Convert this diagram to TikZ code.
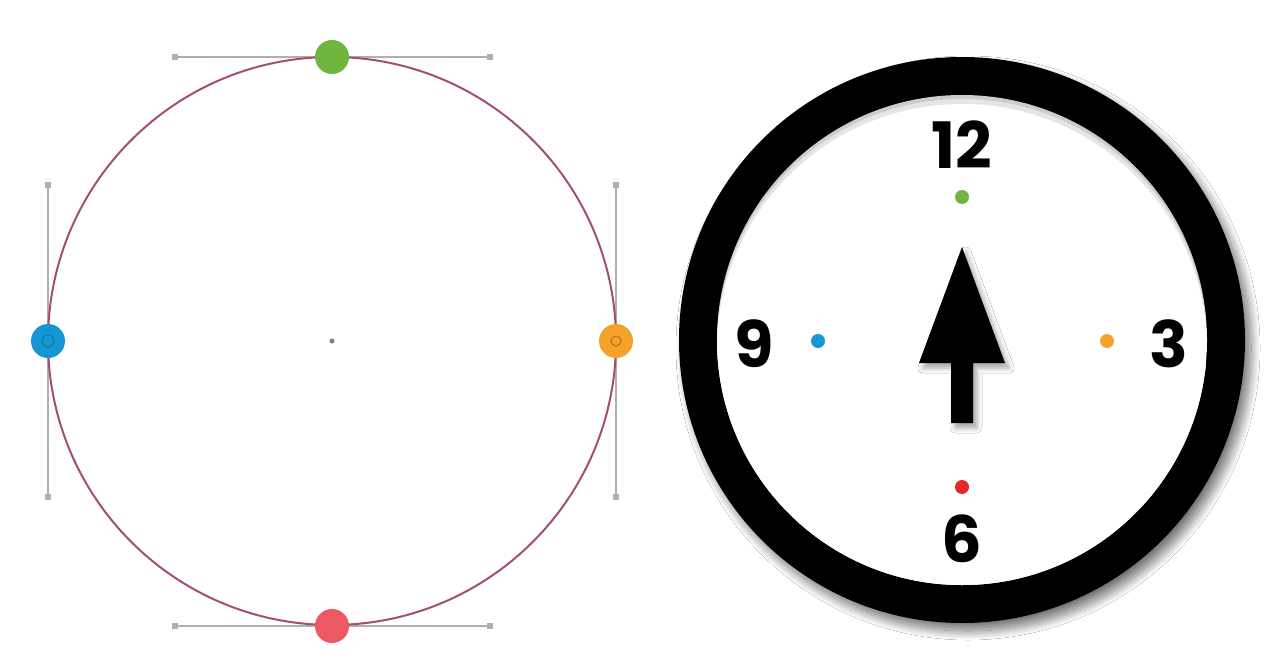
\documentclass[tikz,border=0pt]{standalone}
\usepackage{fontspec}
\newfontfamily\clockfont{Poppins}
\usepackage{tikz}
\usetikzlibrary{shadows.blur}
\definecolor{pathred}{RGB}{165,80,105}
\definecolor{handle}{RGB}{175,175,175}
\definecolor{ptgreen}{RGB}{112,182,62}
\definecolor{ptblue}{RGB}{22,150,212}
\definecolor{ptorange}{RGB}{245,162,42}
\definecolor{ptred}{RGB}{236,88,100}
\definecolor{dotred}{RGB}{226,40,40}

\begin{document}
\begin{tikzpicture}[x=1pt,y=-1pt,
  anchorpt/.style={circle,fill=#1,minimum size=34pt,inner sep=0pt},
  knob/.style={rectangle,fill=handle,minimum size=6pt,inner sep=0pt},
  handleline/.style={handle,line width=2pt},
  hourdot/.style={circle,fill=#1,minimum size=14pt,inner sep=0pt},
  hour/.style={font=\clockfont\bfseries\fontsize{64}{64}\selectfont,inner sep=0pt}]
  \useasboundingbox[fill=white] (0,0) rectangle (1264,661);
  % left: circle with its anchor points and handles
  \node[knob] (tl) at (175,57) {};
  \node[knob] (tr) at (490,57) {};
  \node[knob] (bl) at (175,626) {};
  \node[knob] (br) at (490,626) {};
  \node[knob] (lt) at (48,185) {};
  \node[knob] (lb) at (48,497) {};
  \node[knob] (rt) at (616,185) {};
  \node[knob] (rb) at (616,497) {};
  \draw[handleline] (tl) -- (tr);
  \draw[handleline] (bl) -- (br);
  \draw[handleline] (lt) -- (lb);
  \draw[handleline] (rt) -- (rb);
  \draw[pathred,line width=2pt] (332,341) circle[radius=284];
  \node[circle,fill=gray,minimum size=5pt,inner sep=0pt] (ctr) at (332,341) {};
  \node[anchorpt=ptgreen] (top) at (332,57) {};
  \node[anchorpt=ptblue] (left) at (48,341) {};
  \node[anchorpt=ptorange] (right) at (616,341) {};
  \node[anchorpt=ptred] (bottom) at (332,626) {};
  \draw[ptblue!80!black,line width=1pt] (left) circle[radius=6];
  \draw[ptorange!70!black,line width=1pt] (right) circle[radius=5];
  % right: clock face
  \fill[black,blur shadow={shadow xshift=6pt,shadow yshift=-8pt,shadow blur radius=9pt,
    shadow blur steps=16,shadow opacity=55}]
    (962,340) circle[radius=283];
  \fill[gray!40] (962,340) circle[radius=245];
  \begin{scope}
    \clip (962,340) circle[radius=245];
    \fill[gray!20] (962,344) circle[radius=245];
    \fill[white] (962,349) circle[radius=245];
  \end{scope}
  \node[hour] (h12) at (962,145) {12};
  \node[hour] (h3) at (1169,344) {3};
  \node[hour] (h9) at (754,344) {9};
  \node[hour] (h6) at (962,539) {6};
  \node[hourdot=ptgreen] (d12) at (962,197) {};
  \node[hourdot=ptorange] (d3) at (1107,341) {};
  \node[hourdot=ptblue] (d9) at (818,341) {};
  \node[hourdot=dotred] (d6) at (962,487) {};
  \fill[black,blur shadow={shadow xshift=4pt,shadow yshift=-5pt,shadow blur radius=5pt,
    shadow opacity=35}]
    (962,247) -- (1005,363) -- (973,363) -- (973,423) -- (951,423) -- (951,363)
    -- (919,363) -- cycle;
\end{tikzpicture}
\end{document}
